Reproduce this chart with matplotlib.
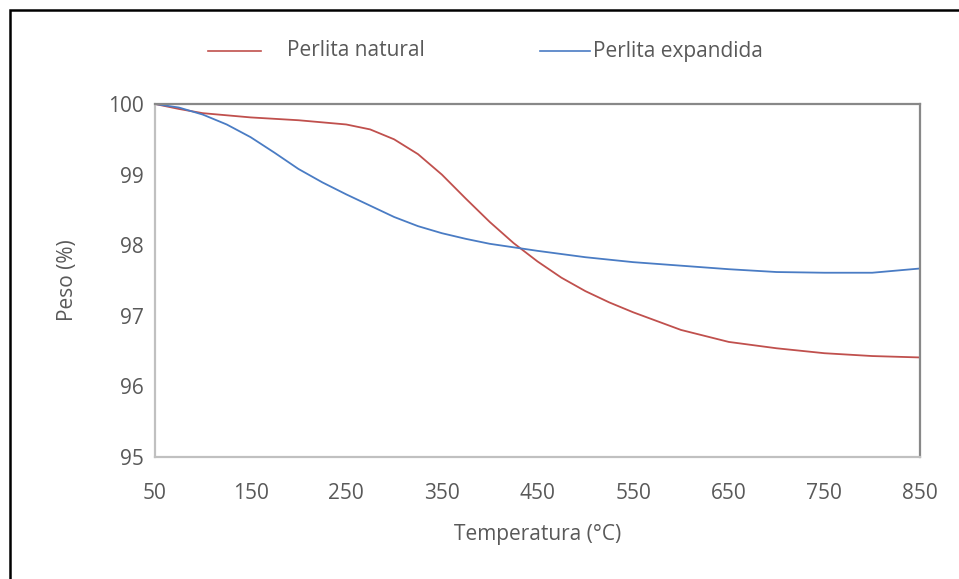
import matplotlib
matplotlib.use("Agg")
import matplotlib.pyplot as plt
from matplotlib.lines import Line2D
from matplotlib.patches import Rectangle

plt.rcParams['font.family'] = ['Open Sans', 'DejaVu Sans']

temp_natural = [50, 75, 100, 125, 150, 175, 200, 225, 250, 275, 300, 325, 350, 375, 400,
                425, 450, 475, 500, 525, 550, 600, 650, 700, 750, 800, 850]
peso_natural = [100.0, 99.93, 99.87, 99.84, 99.81, 99.79, 99.77, 99.74, 99.71, 99.64, 99.5,
                99.29, 99.0, 98.66, 98.33, 98.03, 97.77, 97.54, 97.35, 97.19, 97.05, 96.8,
                96.63, 96.54, 96.47, 96.43, 96.41]

temp_expandida = [50, 75, 100, 125, 150, 175, 200, 225, 250, 275, 300, 325, 350, 375, 400,
                  425, 450, 500, 550, 600, 650, 700, 750, 800, 850]
peso_expandida = [100.0, 99.95, 99.85, 99.71, 99.53, 99.31, 99.08, 98.89, 98.72, 98.56, 98.40,
                  98.27, 98.17, 98.09, 98.02, 97.97, 97.92, 97.83, 97.76, 97.71, 97.66,
                  97.62, 97.61, 97.61, 97.67]

series_labels = ["Perlita natural", "Perlita expandida"]
x_ticks = [50, 150, 250, 350, 450, 550, 650, 750, 850]
y_ticks = [95, 96, 97, 98, 99, 100]

RED = "#C0504D"
BLUE = "#4A7CC4"
TXT = "#595959"

W, H = 959, 579
fig = plt.figure(figsize=(W / 100, H / 100), dpi=100)
ax = fig.add_axes([155 / W, 1 - 457 / H, (920 - 155) / W, (457 - 104) / H])

ax.plot(temp_natural, peso_natural, color=RED, lw=1.3, solid_capstyle='butt')
ax.plot(temp_expandida, peso_expandida, color=BLUE, lw=1.3, solid_capstyle='butt')

ax.set_xlim(50, 850)
ax.set_ylim(95, 100)
ax.set_xticks(x_ticks)
ax.set_yticks(y_ticks)
ax.tick_params(axis='both', length=0, labelsize=15, labelcolor=TXT)
ax.tick_params(axis='x', pad=19)
ax.tick_params(axis='y', pad=8)

for side in ['top', 'right']:
    ax.spines[side].set_color('#888888')
    ax.spines[side].set_linewidth(1.6)
for side in ['left', 'bottom']:
    ax.spines[side].set_color('#c0c0c0')
    ax.spines[side].set_linewidth(1.6)

ax.set_xlabel("Temperatura (°C)", fontsize=15, color=TXT, labelpad=14)
ax.set_ylabel("Peso (%)", fontsize=15, color=TXT, labelpad=22)

# legend drawn manually to match spacing
ly = 1 - 51 / H
fig.add_artist(Line2D([208 / W, 261 / W], [ly, ly], color=RED, lw=1.2))
fig.text(287 / W, ly, series_labels[0], fontsize=15, color=TXT, va='center', ha='left')
fig.add_artist(Line2D([540 / W, 590 / W], [ly, ly], color=BLUE, lw=1.2))
fig.text(593 / W, ly, series_labels[1], fontsize=15, color=TXT, va='center', ha='left')

# outer black frame (left and top visible)
fig.add_artist(Rectangle((9.5 / W, -0.05), 1.2, 1 - 9.5 / H + 0.05, transform=fig.transFigure,
                         fill=False, edgecolor='black', lw=1.8))

fig.savefig("out.png", dpi=100)
